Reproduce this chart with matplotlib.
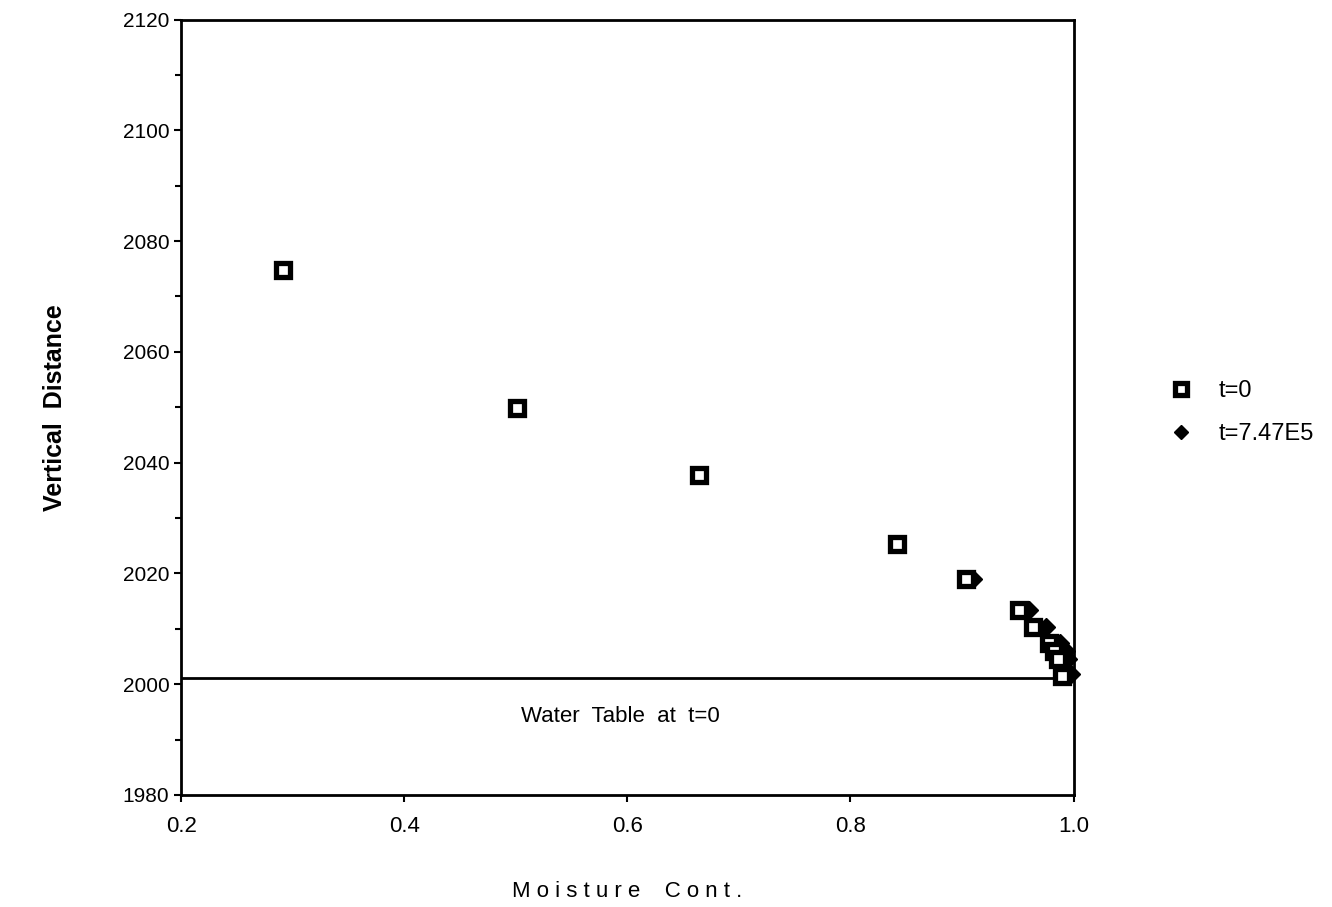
import matplotlib.pyplot as plt

plt.rcParams['font.family'] = ['Liberation Sans', 'DejaVu Sans']

# t=0 profile
x_t0 = [0.2915, 0.501, 0.664, 0.842, 0.904, 0.951, 0.964, 0.978, 0.982, 0.986, 0.990]
y_t0 = [2074.8, 2049.9, 2037.8, 2025.3, 2019.0, 2013.4, 2010.3, 2007.4, 2006.0, 2004.5, 2001.4]

# t=7.47E5 profile
x_t1 = [0.2915, 0.501, 0.664, 0.842, 0.910, 0.960, 0.975, 0.988, 0.993, 0.995, 0.998]
y_t1 = [2074.8, 2049.9, 2037.8, 2025.3, 2019.0, 2013.4, 2010.3, 2007.4, 2006.0, 2004.5, 2001.9]

water_table = 2001.2

fig = plt.figure(figsize=(13.32, 9.07), dpi=100)
ax = fig.add_axes([0.136, 0.1235, 0.67, 0.855])

ax.plot(x_t1, y_t1, linestyle='none', marker='D', markersize=9,
        color='black', label='t=7.47E5', clip_on=False, zorder=3)
ax.plot(x_t0, y_t0, linestyle='none', marker='s', markersize=10,
        markerfacecolor='white', markeredgecolor='black', markeredgewidth=3.8,
        label='t=0', clip_on=False, zorder=4)

ax.axhline(water_table, color='black', linewidth=2)
ax.text(0.594, 1994.2, 'Water  Table  at  t=0', ha='center', va='center', fontsize=16)

ax.set_xlim(0.2, 1.0)
ax.set_ylim(1980, 2120)
ax.set_xticks([0.2, 0.4, 0.6, 0.8, 1.0])
ax.set_xticklabels(['0.2', '0.4', '0.6', '0.8', '1.0'])
ax.set_yticks(range(1980, 2121, 20))
ax.set_yticks(range(1990, 2120, 20), minor=True)
ax.tick_params(axis='both', direction='out', length=5, width=1.5)
ax.tick_params(axis='y', labelsize=15)
ax.tick_params(axis='x', labelsize=16, pad=10)
ax.tick_params(axis='y', which='minor', length=4, width=1.5)
for s in ax.spines.values():
    s.set_linewidth(2)

ax.set_xlabel('M o i s t u r e    C o n t .', fontsize=16, labelpad=32)
ax.set_ylabel('Vertical  Distance', fontsize=18, fontweight='bold', labelpad=40)

handles, labels = ax.get_legend_handles_labels()
fig.legend(handles[::-1], labels[::-1], loc='center left',
           bbox_to_anchor=(0.853, 0.545), frameon=False, fontsize=17,
           handletextpad=0.6, labelspacing=0.9, markerscale=0.8)

fig.savefig('out.png', dpi=100)
